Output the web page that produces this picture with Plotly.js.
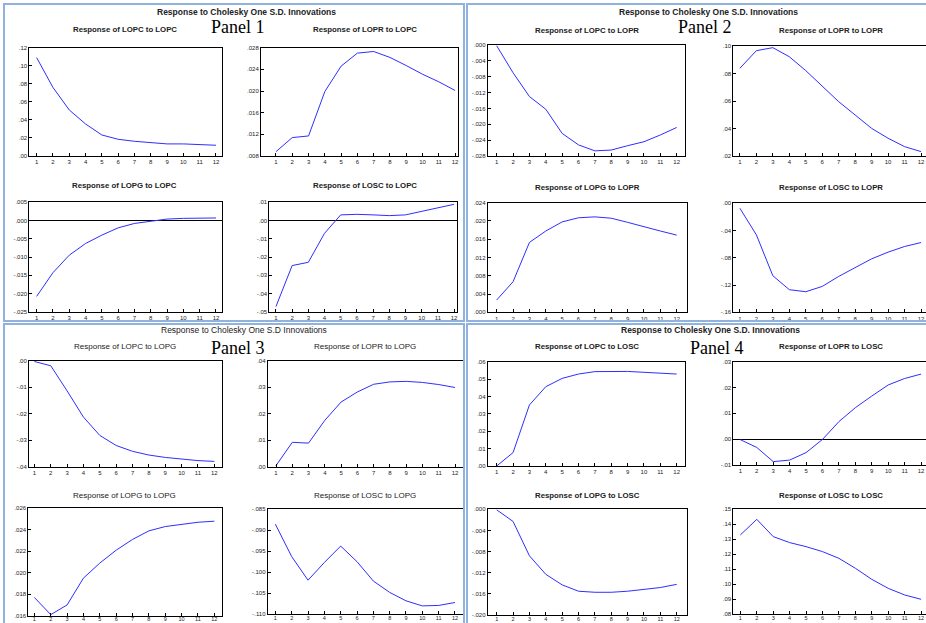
<!DOCTYPE html>
<html><head><meta charset="utf-8">
<script src="https://cdn.plot.ly/plotly-3.0.1.min.js"></script>
<style>html,body{margin:0;padding:0;background:#fff;}#chart{width:926px;height:623px;}</style>
</head><body><div id="chart"></div>
<script>
const periods = [1,2,3,4,5,6,7,8,9,10,11,12];
const periodLabels = ["1","2","3","4","5","6","7","8","9","10","11","12"];

// Panel 1: shock LOPC
const lopcToLopc = [0.109, 0.076, 0.051, 0.0355, 0.0233, 0.0185, 0.0163, 0.0148, 0.0134, 0.0134, 0.0126, 0.0119];
const loprToLopc = [0.0088, 0.0114, 0.0117, 0.0199, 0.0246, 0.0270, 0.0273, 0.0262, 0.0247, 0.0231, 0.0217, 0.0201];
const lopgToLopc = [-0.0208, -0.0143, -0.0095, -0.0063, -0.0040, -0.0020, -0.0008, -0.0001, 0.0004, 0.0006, 0.0007, 0.0007];
const loscToLopc = [-0.0472, -0.0247, -0.0229, -0.0070, 0.0031, 0.0034, 0.0031, 0.0027, 0.0031, 0.0049, 0.0067, 0.0089];
// Panel 2: shock LOPR
const lopcToLopr = [-0.0002, -0.0070, -0.0130, -0.0162, -0.0223, -0.0252, -0.0267, -0.0265, -0.0254, -0.0244, -0.0227, -0.0208];
const loprToLopr = [0.0838, 0.0966, 0.0988, 0.0922, 0.0821, 0.0709, 0.0595, 0.0498, 0.0401, 0.0329, 0.0268, 0.0232];
const lopgToLopr = [0.0027, 0.0067, 0.0153, 0.0178, 0.0198, 0.0207, 0.0209, 0.0206, 0.0197, 0.0187, 0.0178, 0.0169];
const loscToLopr = [-0.0073, -0.0463, -0.1063, -0.1268, -0.1298, -0.1220, -0.1073, -0.0941, -0.0815, -0.0717, -0.0634, -0.0576];
// Panel 3: shock LOPG
const lopcToLopg = [-0.0003, -0.0019, -0.0114, -0.0213, -0.0282, -0.0320, -0.0342, -0.0356, -0.0365, -0.0372, -0.0377, -0.0380];
const loprToLopg = [0.0004, 0.0092, 0.0089, 0.0175, 0.0244, 0.0282, 0.0311, 0.0320, 0.0322, 0.0318, 0.0310, 0.0299];
const lopgToLopg = [0.0177, 0.0161, 0.0170, 0.0195, 0.0209, 0.0221, 0.0231, 0.0239, 0.0243, 0.0245, 0.0247, 0.0248];
const loscToLopg = [-0.0886, -0.0963, -0.1019, -0.0977, -0.0938, -0.0975, -0.1021, -0.1048, -0.1068, -0.1080, -0.1079, -0.1072];
// Panel 4: shock LOSC
const lopcToLosc = [0.0000, 0.0077, 0.0351, 0.0456, 0.0504, 0.0529, 0.0543, 0.0544, 0.0544, 0.0539, 0.0533, 0.0529];
const loprToLosc = [-0.0002, -0.0032, -0.0087, -0.0081, -0.0052, -0.0001, 0.0068, 0.0122, 0.0167, 0.0210, 0.0235, 0.0252];
const lopgToLosc = [-0.0001, -0.0023, -0.0088, -0.0123, -0.0143, -0.0155, -0.0157, -0.0157, -0.0155, -0.0151, -0.0148, -0.0142];
const loscToLosc = [0.1329, 0.1433, 0.1318, 0.1278, 0.1251, 0.1218, 0.1173, 0.1107, 0.1033, 0.0973, 0.0929, 0.0900];

// y tick values / labels
const tvA = [0, 0.02, 0.04, 0.06, 0.08, 0.10, 0.12];            const ttA = [".00",".02",".04",".06",".08",".10",".12"];
const tvB = [0.008, 0.012, 0.016, 0.020, 0.024, 0.028];          const ttB = [".008",".012",".016",".020",".024",".028"];
const tvC = [-0.025,-0.020,-0.015,-0.010,-0.005,0,0.005];        const ttC = ["-.025","-.020","-.015","-.010","-.005",".000",".005"];
const tvD = [-0.05,-0.04,-0.03,-0.02,-0.01,0,0.01];              const ttD = ["-.05","-.04","-.03","-.02","-.01",".00",".01"];
const tvE = [-0.028,-0.024,-0.020,-0.016,-0.012,-0.008,-0.004,0]; const ttE = ["-.028","-.024","-.020","-.016","-.012","-.008","-.004",".000"];
const tvF = [0.02,0.04,0.06,0.08,0.10];                           const ttF = [".02",".04",".06",".08",".10"];
const tvG = [0,0.004,0.008,0.012,0.016,0.020,0.024];              const ttG = [".000",".004",".008",".012",".016",".020",".024"];
const tvH = [-0.16,-0.12,-0.08,-0.04,0];                          const ttH = ["-.16","-.12","-.08","-.04",".00"];
const tvI = [-0.04,-0.03,-0.02,-0.01,0];                          const ttI = ["-.04","-.03","-.02","-.01",".00"];
const tvJ = [0,0.01,0.02,0.03,0.04];                              const ttJ = [".00",".01",".02",".03",".04"];
const tvK = [0.016,0.018,0.020,0.022,0.024,0.026];                const ttK = [".016",".018",".020",".022",".024",".026"];
const tvL = [-0.110,-0.105,-0.100,-0.095,-0.090,-0.085];          const ttL = ["-.110","-.105","-.100","-.095","-.090","-.085"];
const tvM = [0,0.01,0.02,0.03,0.04,0.05,0.06];                    const ttM = [".00",".01",".02",".03",".04",".05",".06"];
const tvN = [-0.01,0,0.01,0.02,0.03];                             const ttN = ["-.01",".00",".01",".02",".03"];
const tvO = [-0.020,-0.016,-0.012,-0.008,-0.004,0];               const ttO = ["-.020","-.016","-.012","-.008","-.004",".000"];
const tvP = [0.08,0.09,0.10,0.11,0.12,0.13,0.14,0.15];            const ttP = [".08",".09",".10",".11",".12",".13",".14",".15"];

const W = 926, H = 623;
const px = v => v / W, py = v => 1 - v / H;

const plots = [
 {s: lopcToLopc, t:"Response of LOPC to LOPC", x:[29.3,221.7], y:[47.7,156],   xr:[0.55,12.35], yr:[0,0.12],       tv:tvA, tt:ttA, z:false, r:true,  b:true},
 {s: loprToLopc, t:"Response of LOPR to LOPC", x:[261,457.7],  y:[47.7,156],   xr:[0.08,12.16], yr:[0.008,0.028],  tv:tvB, tt:ttB, z:false, r:true,  b:true},
 {s: lopgToLopc, t:"Response of LOPG to LOPC", x:[29.3,221.7], y:[202.3,311.7],xr:[0.55,12.35], yr:[-0.025,0.005], tv:tvC, tt:ttC, z:true,  r:true,  b:true},
 {s: loscToLopc, t:"Response of LOSC to LOPC", x:[269.3,457.3],y:[202.3,311.7],xr:[0.59,12.2],  yr:[-0.05,0.01],   tv:tvD, tt:ttD, z:true,  r:true,  b:true},

 {s: lopcToLopr, t:"Response of LOPC to LOPR", x:[487.7,685],  y:[45,156],     xr:[0.45,12.51], yr:[-0.028,0],     tv:tvE, tt:ttE, z:false, r:true,  b:true},
 {s: loprToLopr, t:"Response of LOPR to LOPR", x:[733.3,926],  y:[46,156],     xr:[0.6,12.3],   yr:[0.02,0.10],    tv:tvF, tt:ttF, z:false, r:false, b:true},
 {s: lopgToLopr, t:"Response of LOPG to LOPR", x:[487.7,686.7],y:[202.7,312.3],xr:[0.45,12.61], yr:[0,0.024],      tv:tvG, tt:ttG, z:false, r:true,  b:true},
 {s: loscToLopr, t:"Response of LOSC to LOPR", x:[733.3,926],  y:[203.3,312.3],xr:[0.6,12.3],   yr:[-0.16,0],      tv:tvH, tt:ttH, z:false, r:false, b:true},

 {s: lopcToLopg, t:"Response of LOPC to LOPG", x:[29,221.7],   y:[360.7,466.7],xr:[0.67,12.45], yr:[-0.04,0],      tv:tvI, tt:ttI, z:false, r:true,  b:false},
 {s: loprToLopg, t:"Response of LOPR to LOPG", x:[267.7,463.3],y:[360.7,466.7],xr:[0.49,12.51], yr:[0,0.04],       tv:tvJ, tt:ttJ, z:false, r:true,  b:false},
 {s: lopgToLopg, t:"Response of LOPG to LOPG", x:[28.3,221.7], y:[508.3,615.7],xr:[0.63,12.45], yr:[0.016,0.026],  tv:tvK, tt:ttK, z:false, r:true,  b:false},
 {s: loscToLopg, t:"Response of LOSC to LOPG", x:[267.7,463.3],y:[509,614.3],  xr:[0.53,12.51], yr:[-0.110,-0.085],tv:tvL, tt:ttL, z:false, r:true,  b:false},

 {s: lopcToLosc, t:"Response of LOPC to LOSC", x:[487.7,685],  y:[361.7,466],  xr:[0.45,12.51], yr:[0,0.06],       tv:tvM, tt:ttM, z:false, r:true,  b:true},
 {s: loprToLosc, t:"Response of LOPR to LOSC", x:[733.3,926],  y:[361.7,465],  xr:[0.57,12.3],  yr:[-0.01,0.03],   tv:tvN, tt:ttN, z:true,  r:false, b:true},
 {s: lopgToLosc, t:"Response of LOPG to LOSC", x:[487.7,686.7],y:[509.3,615],  xr:[0.45,12.61], yr:[-0.020,0],     tv:tvO, tt:ttO, z:false, r:true,  b:true},
 {s: loscToLosc, t:"Response of LOSC to LOSC", x:[733.3,926],  y:[509.3,614.3],xr:[0.57,12.3],  yr:[0.08,0.15],    tv:tvP, tt:ttP, z:false, r:false, b:true}
];
const subTitleY = [30,30,185,185, 31,31,187,187, 346,346,495,495, 346,346,495,495];
const subTitleX = [125,365,125,365, 587,831,587,831, 125,365,125,365, 587,831,587,831];
const bottomRow = [10,11,14,15];

const tickFont = {family:"Arial, Liberation Sans", size:6, color:"#222"};
const data = [];
const layout = {
  width: W, height: H, margin:{l:0,r:0,t:0,b:0},
  paper_bgcolor:"#fff", plot_bgcolor:"#fff", showlegend:false,
  annotations: [], shapes: []
};

plots.forEach((p, i) => {
  const n = i + 1;
  const xa = "x" + (n === 1 ? "" : n), ya = "y" + (n === 1 ? "" : n);
  data.push({x: periods, y: p.s, xaxis: xa, yaxis: ya, type:"scatter", mode:"lines",
             line:{color:"#2e2eff", width:1}, hoverinfo:"skip"});
  const xax = {
    domain:[px(p.x[0]), px(p.x[1])], anchor: ya, range: p.xr,
    tickvals: periods, ticktext: periodLabels, ticks:"inside", ticklen:3, tickcolor:"#000",
    showline:true, linecolor:"#000", linewidth:1, mirror:true, showgrid:false, zeroline:false,
    tickfont: bottomRow.includes(i) ? {family:"Arial, Liberation Sans", size:5.5, color:"#222"} : tickFont,
    fixedrange:true
  };
  if (bottomRow.includes(i)) xax.ticklabelstandoff = -2;
  layout["xaxis" + (n === 1 ? "" : n)] = xax;
  layout["yaxis" + (n === 1 ? "" : n)] = {
    domain:[py(p.y[1]), py(p.y[0])], anchor: xa, range: p.yr,
    tickvals: p.tv, ticktext: p.tt, ticks:"inside", ticklen:3, tickcolor:"#000",
    showline:true, linecolor:"#000", linewidth:1, mirror: p.r ? true : false, showgrid:false,
    zeroline: p.z, zerolinecolor:"#000", zerolinewidth:1,
    tickfont: tickFont, fixedrange:true
  };
  layout.annotations.push({
    text: p.b ? "<b>" + p.t + "</b>" : p.t, xref:"paper", yref:"paper",
    x: px(subTitleX[i]), y: py(subTitleY[i]),
    xanchor:"center", yanchor:"middle", showarrow:false,
    font:{family:"Arial, Liberation Sans", size: p.b ? 7.8 : 8, color:"#222"}
  });
});

const mainTitles = [
  {t:"<b>Response to Cholesky One S.D. Innovations</b>", x:246, y:12},
  {t:"<b>Response to Cholesky One S.D. Innovations</b>", x:708, y:12},
  {t:"Response to Cholesky One S.D Innovations", x:244, y:330},
  {t:"<b>Response to Cholesky One S.D. Innovations</b>", x:710, y:330}
];
mainTitles.forEach(m => layout.annotations.push({
  text: m.t, xref:"paper", yref:"paper", x:px(m.x), y:py(m.y), xanchor:"center", yanchor:"middle",
  showarrow:false, font:{family:"Arial, Liberation Sans", size:8.5, color:"#222"}
}));
const panelLabels = [
  {t:"Panel 1", x:238, y:27}, {t:"Panel 2", x:705, y:27},
  {t:"Panel 3", x:238, y:348}, {t:"Panel 4", x:717, y:348}
];
panelLabels.forEach(m => layout.annotations.push({
  text: m.t, xref:"paper", yref:"paper", x:px(m.x), y:py(m.y), xanchor:"center", yanchor:"middle",
  showarrow:false, font:{family:"Liberation Serif, Times New Roman, serif", size:18, color:"#000"}
}));
const frames = [[4,4,464,321],[467,4,930,321],[4,324,464,626],[467,324,930,626]];
frames.forEach(f => layout.shapes.push({
  type:"rect", xref:"paper", yref:"paper", x0:px(f[0]), x1:px(f[2]), y0:py(f[1]), y1:py(f[3]),
  line:{color:"#8fb2de", width:2}, layer:"above"
}));

Plotly.newPlot("chart", data, layout, {staticPlot:true, displayModeBar:false});
</script>
</body></html>
